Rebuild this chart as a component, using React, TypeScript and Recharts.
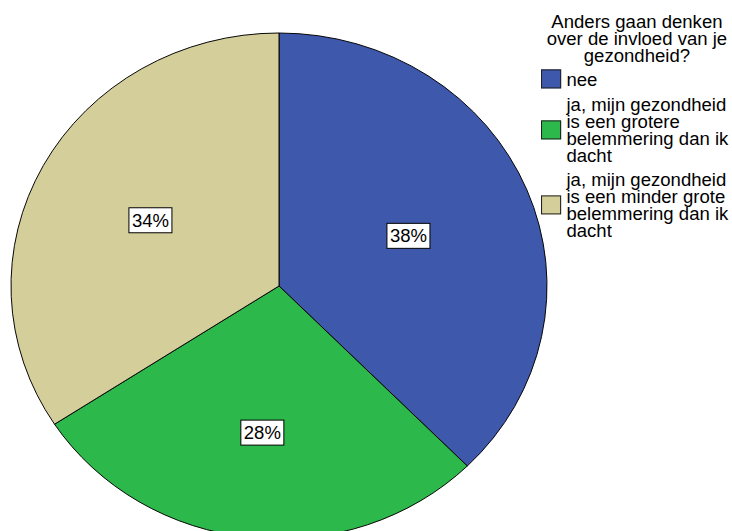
import React from 'react';
import { PieChart, Pie, Cell } from 'recharts';

const legendTitle = 'Anders gaan denken over de invloed van je gezondheid?';
const categories = [
  'nee',
  'ja, mijn gezondheid is een grotere belemmering dan ik dacht',
  'ja, mijn gezondheid is een minder grote belemmering dan ik dacht',
];
const percentages = [37.6, 28.2, 34.2];
const colors = ['#3E58AB', '#2DB84B', '#D3CE9A'];

const data = categories.map((name, i) => ({ name, value: percentages[i] }));

const FONT = '"Liberation Sans", Arial, sans-serif';
const SQUASH = 0.944; // pie is drawn a bit flatter than round
const STRETCH = 1.06; // text is a bit wider than normal

const CX = 279;
const CY = 286;
const R = 268;

const renderLabel = (props: any) => {
  const { cx, cy, midAngle, outerRadius, percent } = props;
  // put label on centroid of the sector
  const half = percent * Math.PI;
  const d = (2 * outerRadius * Math.sin(half)) / (3 * half);
  const rad = (midAngle * Math.PI) / 180;
  const x = cx + d * Math.cos(rad);
  const y = cy - d * SQUASH * Math.sin(rad);
  return (
    <g>
      <rect x={x - 21.5} y={y - 12.5} width={43} height={25} fill="#fff" stroke="#000" strokeWidth={1} />
      <text
        transform={`translate(${x},${y}) scale(${STRETCH},1)`}
        textAnchor="middle"
        dy="0.36em"
        fontFamily={FONT}
        fontSize={17.5}
        fill="#000"
      >
        {`${Math.round(percent * 100)}%`}
      </text>
    </g>
  );
};

export default function App() {
  return (
    <div
      style={{
        position: 'absolute',
        top: 0,
        left: 0,
        width: 732,
        height: 531,
        overflow: 'hidden',
        background: '#fff',
        fontFamily: FONT,
      }}
    >
      <style>{`.recharts-pie-sector { transform: scaleY(${SQUASH}); transform-origin: ${CX}px ${CY}px; }`}</style>
      <PieChart width={732} height={531} margin={{ top: 0, right: 0, bottom: 0, left: 0 }}>
        <Pie
          data={data}
          dataKey="value"
          nameKey="name"
          cx={CX}
          cy={CY}
          outerRadius={R}
          startAngle={90}
          endAngle={-270}
          stroke="#000"
          strokeWidth={1}
          label={renderLabel}
          labelLine={false}
          isAnimationActive={false}
        >
          {data.map((d, i) => (
            <Cell key={d.name} fill={colors[i]} />
          ))}
        </Pie>
      </PieChart>

      <div
        style={{
          position: 'absolute',
          left: 541,
          top: 14,
          transform: `scaleX(${STRETCH})`,
          transformOrigin: 'left top',
          fontSize: 17.5,
          lineHeight: '17px',
          color: '#000',
        }}
      >
        <div style={{ width: 181, textAlign: 'center', marginBottom: 6 }}>{legendTitle}</div>
        {categories.map((name, i) => (
          <div key={name} style={{ display: 'flex', alignItems: 'center', marginBottom: 7 }}>
            <div
              style={{
                width: 17,
                height: 17,
                background: colors[i],
                border: '1px solid #222',
                marginRight: 5,
                transform: 'translateY(-1.6px)',
                flexShrink: 0,
              }}
            />
            <div style={{ width: 155 }}>{name}</div>
          </div>
        ))}
      </div>
    </div>
  );
}
